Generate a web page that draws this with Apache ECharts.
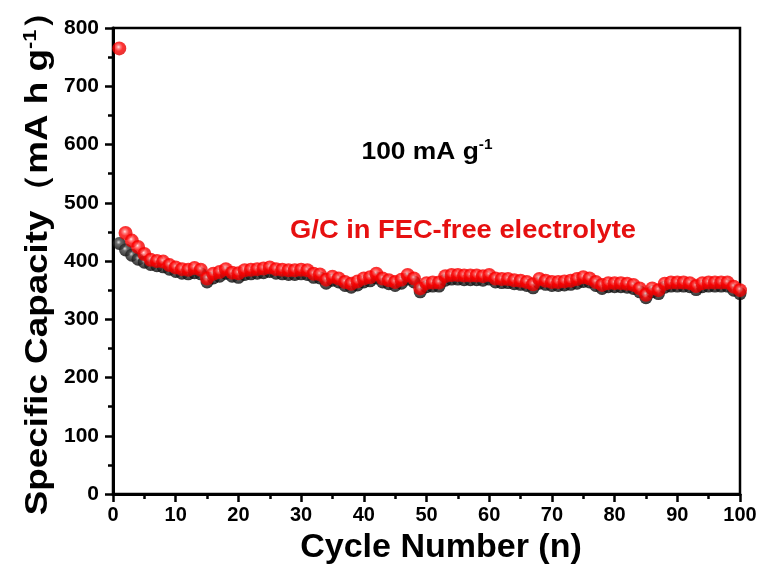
<!DOCTYPE html>
<html>
<head>
<meta charset="utf-8">
<script src="https://cdn.jsdelivr.net/npm/echarts@6/dist/echarts.min.js"></script>
<style>
  html, body { margin: 0; padding: 0; background: #fff; }
  #chart { width: 763px; height: 567px; }
</style>
</head>
<body>
<div id="chart"></div>
<script>
// cycle numbers 1..100
var cycles = [];
for (var i = 1; i <= 100; i++) cycles.push(i);

// red: discharge capacity (mA h g-1)
var redCap = [
  765, 448, 435, 424, 412, 402, 400, 399, 393, 389,
  386, 385, 388, 385, 370, 378, 381, 386, 380, 379,
  384, 385, 386, 387, 389, 386, 385, 384, 384, 385,
  384, 378, 377, 368, 373, 370, 364, 361, 365, 370,
  372, 378, 370, 367, 364, 368, 376, 370, 353, 362,
  363, 363, 374, 376, 376, 375, 375, 375, 374, 376,
  370, 369, 369, 367, 366, 364, 360, 369, 366, 364,
  364, 365, 366, 369, 372, 370, 364, 359, 362, 362,
  362, 361, 359, 353, 342, 353, 350, 361, 363, 363,
  363, 362, 357, 362, 363, 363, 363, 363, 356, 350
];

// black: charge capacity (mA h g-1)
var blackCap = [
  430, 419, 410, 403, 398, 394, 392, 390, 386, 382,
  379, 378, 380, 378, 364, 371, 374, 379, 374, 372,
  377, 378, 379, 380, 382, 379, 378, 377, 377, 378,
  377, 372, 371, 362, 367, 364, 358, 355, 359, 364,
  366, 371, 364, 361, 358, 362, 369, 364, 347, 356,
  357, 357, 367, 369, 369, 368, 368, 368, 367, 369,
  364, 363, 363, 361, 360, 358, 354, 362, 360, 358,
  358, 359, 360, 362, 365, 364, 358, 353, 356, 356,
  356, 355, 353, 347, 337, 347, 344, 355, 357, 357,
  357, 356, 351, 356, 357, 357, 357, 357, 350, 344
];

function pairs(ys) {
  return cycles.map(function (c, i) { return [c, ys[i]]; });
}

var font = '"Liberation Sans", Arial, sans-serif';

// shaded ball look
var redBall = {
  type: 'radial', x: 0.45, y: 0.4, r: 0.6,
  colorStops: [
    { offset: 0, color: '#ffe0e0' },
    { offset: 0.2, color: '#ff6a6a' },
    { offset: 0.5, color: '#ff0000' },
    { offset: 1, color: '#dd0000' }
  ]
};
var blackBall = {
  type: 'radial', x: 0.45, y: 0.4, r: 0.6,
  colorStops: [
    { offset: 0, color: '#d0d0d0' },
    { offset: 0.3, color: '#444444' },
    { offset: 1, color: '#000000' }
  ]
};

var myChart = echarts.init(document.getElementById('chart'));
myChart.setOption({
  animation: false,
  grid: {
    left: 113, right: 23, top: 28, bottom: 73,
    show: true, borderColor: '#000', borderWidth: 2.5
  },
  xAxis: {
    type: 'value', min: 0, max: 100, interval: 10,
    axisLine: { show: true, lineStyle: { color: '#000', width: 3 } },
    axisTick: { show: true, inside: false, length: 8, lineStyle: { color: '#000', width: 2.5 } },
    minorTick: { show: true, splitNumber: 2, length: 5, lineStyle: { color: '#000', width: 2.5 } },
    axisLabel: { color: '#000', fontSize: 20, fontWeight: 'bold', fontFamily: font, margin: 11 },
    splitLine: { show: false }
  },
  yAxis: {
    type: 'value', min: 0, max: 800, interval: 100,
    axisLine: { show: true, lineStyle: { color: '#000', width: 3 } },
    axisTick: { show: true, inside: false, length: 8, lineStyle: { color: '#000', width: 2.5 } },
    minorTick: { show: true, splitNumber: 2, length: 5, lineStyle: { color: '#000', width: 2.5 } },
    axisLabel: { color: '#000', fontSize: 21, fontWeight: 'bold', fontFamily: font, margin: 14 },
    splitLine: { show: false }
  },
  graphic: [
    {
      type: 'text', x: 441, y: 548,
      style: {
        text: 'Cycle Number (n)', fill: '#000',
        font: 'bold 34px ' + font, align: 'center', verticalAlign: 'middle'
      }
    },
    {
      type: 'text', x: 38, y: 254, rotation: Math.PI / 2, scaleX: 1.15,
      style: {
        text: '{a|Specific Capacity（mA h g}{s|-1}{a|）}',
        align: 'center', verticalAlign: 'middle',
        rich: {
          a: { fontSize: 32, fontWeight: 'bold', fontFamily: font, fill: '#000' },
          s: { fontSize: 19, fontWeight: 'bold', fontFamily: font, fill: '#000', verticalAlign: 'top', padding: [0, 0, 14, 0] }
        }
      }
    },
    {
      type: 'text', x: 427, y: 152, scaleX: 1.1,
      style: {
        text: '{a|100 mA g}{s|-1}',
        align: 'center', verticalAlign: 'middle',
        rich: {
          a: { fontSize: 24, fontWeight: 'bold', fontFamily: font, fill: '#000' },
          s: { fontSize: 14, fontWeight: 'bold', fontFamily: font, fill: '#000', padding: [0, 0, 14, 0] }
        }
      }
    },
    {
      type: 'text', x: 463, y: 231, scaleX: 1.05,
      style: {
        text: 'G/C in FEC-free electrolyte', fill: '#e61010',
        font: 'bold 26px ' + font, align: 'center', verticalAlign: 'middle'
      }
    }
  ],
  series: [
    {
      name: 'charge', type: 'scatter', data: pairs(blackCap),
      symbol: 'circle', symbolSize: 13,
      itemStyle: { color: blackBall }
    },
    {
      name: 'discharge', type: 'scatter', data: pairs(redCap),
      symbol: 'circle', symbolSize: 14,
      itemStyle: { color: redBall }
    }
  ]
});
</script>
</body>
</html>
